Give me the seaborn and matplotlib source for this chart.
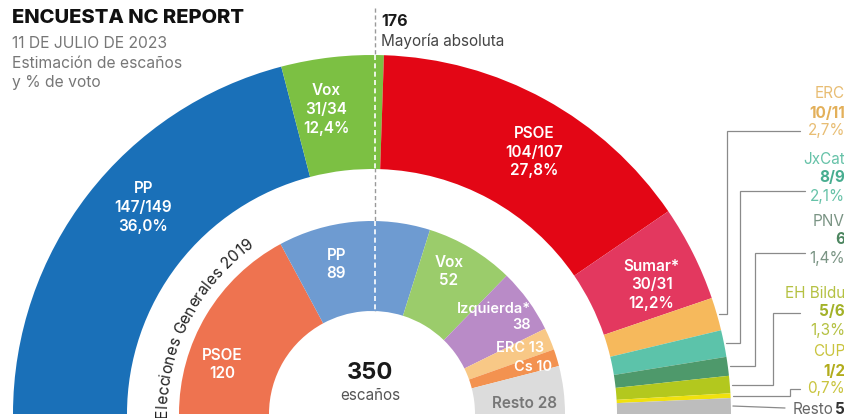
import numpy as np
import matplotlib.pyplot as plt
import seaborn as sns
from matplotlib.font_manager import FontProperties

# encuesta NC Report, 11/07/2023: horquilla de escaños y % de voto
parties = ["PP", "Vox", "PSOE", "Sumar*", "ERC", "JxCat", "PNV", "EH Bildu", "CUP", "Resto"]
seats_min = [147, 31, 104, 30, 10, 8, 6, 5, 1, 5]
seats_max = [149, 34, 107, 31, 11, 9, 6, 6, 2, 5]
vote = ["36,0%", "12,4%", "27,8%", "12,2%", "2,7%", "2,1%", "1,4%", "1,3%", "0,7%", ""]
colors = ["#1a70b8", "#7cc043", "#e30615", "#e3385f", "#f6b95c", "#5cc3aa",
          "#4e996b", "#b3c81e", "#f0e10d", "#bdbdbd"]

# elecciones generales 2019
parties_19 = ["PSOE", "PP", "Vox", "Izquierda*", "ERC", "Cs", "Resto"]
seats_19 = [120, 89, 52, 38, 13, 10, 28]
colors_19 = ["#ee7350", "#6e9bd1", "#9bcc6b", "#b98bc7", "#f8c886", "#f39250", "#dcdcdc"]

total_seats = 350
majority = 176

FONT = ["Inter", "DejaVu Sans"]
W, H = 844, 418
CX, CY = 372, 4            # centro del hemiciclo (px)
R_OUT, R_OUT_IN = 359, 245
R_IN, R_IN_IN = 193, 103

sns.set_theme(style="white")
plt.rcParams["font.family"] = FONT

fig = plt.figure(figsize=(W / 100, H / 100), dpi=100)
ax = fig.add_axes([0, 0, 1, 1])


def seat_text(lo, hi):
    return f"{lo}" if lo == hi else f"{lo}/{hi}"


def polar(r, ang):
    a = np.deg2rad(ang)
    return CX + r * np.cos(a), CY + r * np.sin(a)


# línea de mayoría absoluta (gris sobre fondo blanco)
maj_ang = 180 - 180 * majority / total_seats
xm = polar(R_OUT, maj_ang)[0]
ax.plot([xm, xm], [H - 8, H - 312], color="#9a9a9a", lw=1, ls=(0, (3, 2)), zorder=0)

# anillo exterior: encuesta
mid = (np.array(seats_min) + np.array(seats_max)) / 2
frac = mid / mid.sum() / 2
ax.pie(frac, colors=colors, radius=R_OUT, center=(CX, CY), startangle=180,
       counterclock=False, normalize=False,
       wedgeprops=dict(width=R_OUT - R_OUT_IN, linewidth=0))
start = 180 - 360 * np.concatenate([[0], np.cumsum(frac)[:-1]])
mid_ang = start - 360 * frac / 2

# anillo interior: 2019
frac19 = np.array(seats_19) / total_seats / 2
ax.pie(frac19, colors=colors_19, radius=R_IN, center=(CX, CY), startangle=180,
       counterclock=False, normalize=False,
       wedgeprops=dict(width=R_IN - R_IN_IN, linewidth=0))
start19 = 180 - 360 * np.concatenate([[0], np.cumsum(frac19)[:-1]])
mid19 = start19 - 360 * frac19 / 2

# la línea pasa en blanco por encima de los anillos
ax.plot([xm, xm], [CY + R_OUT, CY + R_OUT_IN], color="white", lw=1.2, ls=(0, (3, 2)), zorder=3)
ax.plot([xm, xm], [CY + R_IN, CY + R_IN_IN], color="white", lw=1.2, ls=(0, (3, 2)), zorder=3)

# etiquetas de los partidos grandes
label_shift = [-4.4, 2.2, -3, -1.8]
for i in range(4):
    x, y = polar(308, mid_ang[i] + label_shift[i])
    ax.text(x, y, f"{parties[i]}\n{seat_text(seats_min[i], seats_max[i])}\n{vote[i]}",
            color="white", fontsize=11, fontweight="semibold", ha="center", va="center",
            linespacing=1.3)

# etiquetas 2019
in_r = [158, 154, 162]
in_shift = [12.5, 8, 2.6]
for i in range(3):
    x, y = polar(in_r[i], mid19[i] + in_shift[i])
    ax.text(x, y, f"{parties_19[i]}\n{seats_19[i]}", color="white", fontsize=11,
            fontweight="semibold", ha="center", va="center", linespacing=1.25)
ax.text(531, H - 317, f"{parties_19[3]}\n{seats_19[3]}", color="white", fontsize=10.5,
        fontweight="semibold", ha="right", va="center", multialignment="right", linespacing=1.2)
ax.text(520, H - 348, f"{parties_19[4]} {seats_19[4]}", color="white", fontsize=10.5,
        fontweight="semibold", ha="center", va="center")
ax.text(533, H - 367, f"{parties_19[5]} {seats_19[5]}", color="white", fontsize=10.5,
        fontweight="semibold", ha="center", va="center")
ax.text(525, H - 404, f"{parties_19[6]} {seats_19[6]}", color="#777777", fontsize=11,
        fontweight="semibold", ha="center", va="center")

# etiquetas laterales de partidos pequeños
side_mid = [113, 178, 240, 312, 371]
name_col = ["#e8bd73", "#66c2a8", "#7a9484", "#b5c142", "#c9c43e"]
seat_col = ["#e3b05a", "#48ad90", "#4d8660", "#a3b228", "#b2ac1c"]
lead_x = [800, 805, 805, 800, 800]
lead_v = [727, 740, 755, 773, 790]
XR = 845
for k, i in enumerate(range(4, 9)):
    ym = H - side_mid[k]
    ax.text(XR, ym + 19, parties[i], color=name_col[k], fontsize=11, ha="right", va="center")
    ax.text(XR, ym, seat_text(seats_min[i], seats_max[i]), color=seat_col[k], fontsize=11,
            fontweight="bold", ha="right", va="center")
    ax.text(XR, ym - 18, vote[i], color=name_col[k], fontsize=11, ha="right", va="center")
    if k in (1, 2):
        yl = ym - 13
    elif k == 3:
        yl = ym - 1
    else:
        yl = ym - 18
    xw, yw = polar(R_OUT, mid_ang[i])
    ax.plot([lead_x[k], lead_v[k], lead_v[k], xw + 2], [yl, yl, yw, yw],
            color="#8a8a8a", lw=0.9, solid_joinstyle="miter")

# Resto
ax.text(XR, H - 410, f"{seats_min[9]}", color="#333333", fontsize=11, fontweight="bold",
        ha="right", va="center")
ax.text(XR - 11, H - 410, parties[9], color="#666666", fontsize=11, ha="right", va="center")
xw, yw = polar(R_OUT, mid_ang[9])
ax.plot([785, xw + 2], [H - 408, yw], color="#8a8a8a", lw=0.9)

# mayoría absoluta
ax.text(xm + 6, H - 21, f"{majority}", fontsize=11.5, fontweight="bold", color="#1a1a1a",
        ha="left", va="center")
ax.text(xm + 6, H - 41, "Mayoría absoluta", fontsize=11, color="#444444",
        ha="left", va="center")

# centro
ax.text(CX - 2, H - 373, f"{total_seats}", fontsize=17, fontweight="bold", color="#1a1a1a",
        ha="center", va="center")
ax.text(CX - 2, H - 395, "escaños", fontsize=11, color="#555555", ha="center", va="center")


# texto curvo
def curved_text(s, r, ang0, size, color):
    renderer = fig.canvas.get_renderer()
    prop = FontProperties(family=FONT, size=size)
    widths = [0.0] + [renderer.get_text_width_height_descent(s[:j], prop, ismath=False)[0]
                      for j in range(1, len(s) + 1)]
    for j, ch in enumerate(s):
        pos = (widths[j] + widths[j + 1]) / 2
        ang = ang0 - np.rad2deg(pos / r)
        x, y = polar(r, ang)
        ax.text(x, y, ch, fontsize=size, color=color, rotation=ang - 90,
                rotation_mode="anchor", ha="center", va="baseline")


curved_text("Elecciones Generales 2019", 205, 181, 11.3, "#222222")

# cabecera
ax.text(12, H - 18, "ENCUESTA NC REPORT", fontsize=14.5, fontweight="heavy", color="#111111",
        ha="left", va="center")
ax.text(12, H - 43, "11 DE JULIO DE 2023", fontsize=11.3, color="#777777", ha="left", va="center")
ax.text(12, H - 64, "Estimación de escaños", fontsize=11.3, color="#777777", ha="left", va="center")
ax.text(12, H - 83, "y % de voto", fontsize=11.3, color="#777777", ha="left", va="center")

ax.set_xlim(0, W)
ax.set_ylim(0, H)
ax.set_aspect("equal")
ax.axis("off")
fig.savefig("out.png", dpi=100, facecolor="white")
